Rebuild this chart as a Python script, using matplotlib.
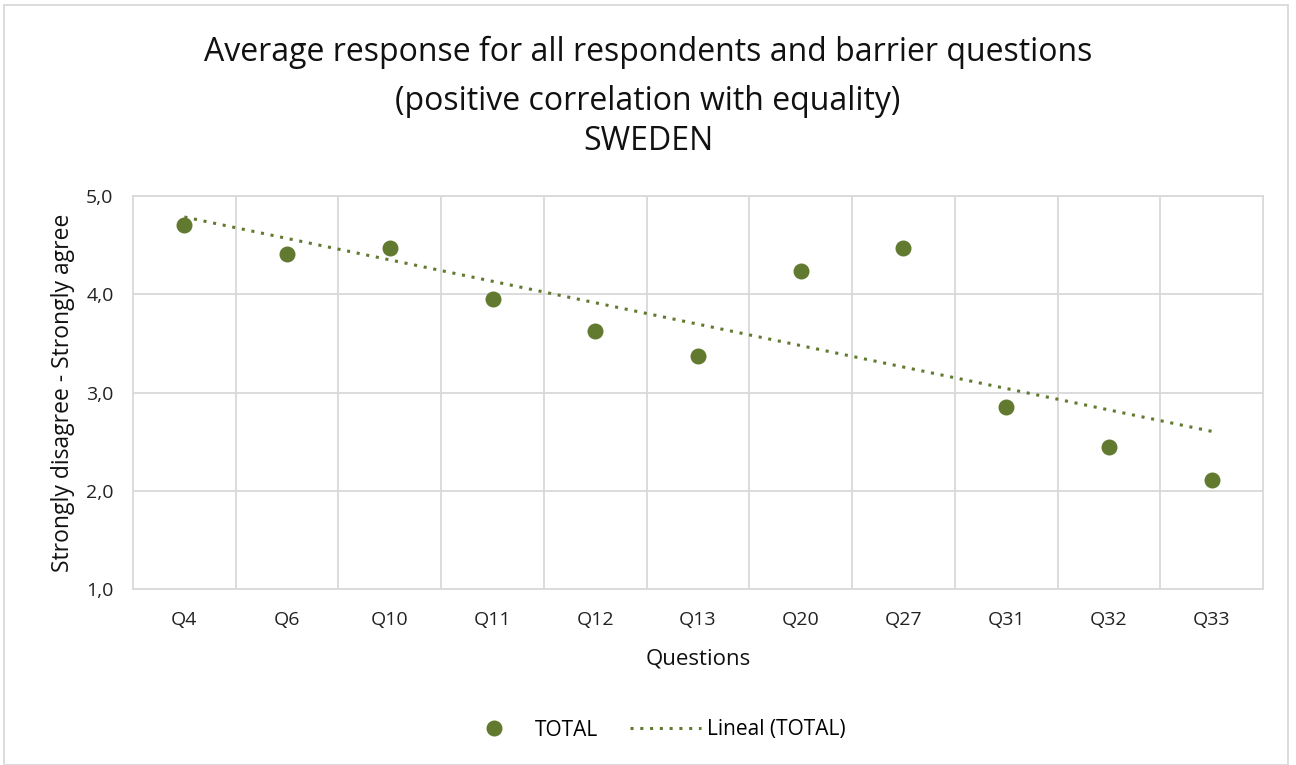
import matplotlib
matplotlib.use("Agg")
import matplotlib.pyplot as plt
import numpy as np
from matplotlib.lines import Line2D
from matplotlib.patches import Rectangle

categories = ["Q4", "Q6", "Q10", "Q11", "Q12", "Q13", "Q20", "Q27", "Q31", "Q32", "Q33"]
total = [4.70, 4.41, 4.47, 3.95, 3.63, 3.37, 4.24, 4.47, 2.85, 2.45, 2.11]
yticks = [1.0, 2.0, 3.0, 4.0, 5.0]
ytick_labels = ["1,0", "2,0", "3,0", "4,0", "5,0"]

green = "#617A2F"
grid = "#D9D9D9"
font = ["Open Sans", "DejaVu Sans"]
plt.rcParams["font.family"] = font

fig = plt.figure(figsize=(12.96, 7.65), dpi=100)
ax = fig.add_axes([133/1296, 1 - 589/765, (1263-133)/1296, (589-196)/765])

x = np.arange(len(categories))
ax.plot(x, total, "o", color=green, markersize=10.5, zorder=3, label="TOTAL")
coef = np.polyfit(x + 1, total, 1)
trend = np.polyval(coef, x + 1)
ax.plot(x, trend, linestyle=(0, (1, 2.2)), color=green, linewidth=2.2, zorder=2, label="Lineal (TOTAL)")

ax.set_xlim(-0.5, len(categories) - 0.5)
ax.set_ylim(1.0, 5.0)
ax.set_yticks(yticks)
ax.set_yticklabels(ytick_labels)
ax.set_xticks(x)
ax.set_xticklabels(categories)
ax.set_xticks(np.arange(0.5, len(categories) - 1, 1.0), minor=True)
ax.tick_params(axis="both", which="both", length=0, labelsize=14, colors="#222222")
ax.tick_params(axis="x", pad=16)
ax.tick_params(axis="y", pad=14)
ax.grid(True, axis="y", which="major", color=grid, linewidth=1.3)
ax.grid(True, axis="x", which="minor", color=grid, linewidth=1.3)
ax.grid(False, axis="x", which="major")
for s in ax.spines.values():
    s.set_color(grid)
    s.set_linewidth(1.3)
ax.set_axisbelow(True)

ax.set_xlabel("Questions", fontsize=16, color="#111111", labelpad=14)
ax.set_ylabel("Strongly disagree - Strongly agree", fontsize=16.5, color="#111111", labelpad=8)

fig.text(0.5, 1 - 52/765, "Average response for all respondents and barrier questions",
         ha="center", va="center", fontsize=23, color="#111111")
fig.text(0.5, 1 - 102/765, "(positive correlation with equality)",
         ha="center", va="center", fontsize=23, color="#111111")
fig.text(0.5, 1 - 142/765, "SWEDEN",
         ha="center", va="center", fontsize=23, color="#111111")

handles = [Line2D([], [], marker="o", linestyle="none", color=green, markersize=10.5),
           Line2D([], [], linestyle=(0, (1, 2.2)), color=green, linewidth=2.2)]
fig.legend(handles, ["TOTAL", "Lineal (TOTAL)"], loc="center", bbox_to_anchor=(0.503, 1 - 730/765),
           ncol=2, frameon=False, fontsize=15, handlelength=3.4, columnspacing=1.5,
           handletextpad=0.3, borderpad=0, borderaxespad=0)

fig.patches.append(Rectangle((4/1296, 0), (1288-4)/1296, 1 - 5/765, transform=fig.transFigure,
                             fill=False, edgecolor=grid, linewidth=1.3))

fig.savefig("out.png", dpi=100, facecolor="white")
